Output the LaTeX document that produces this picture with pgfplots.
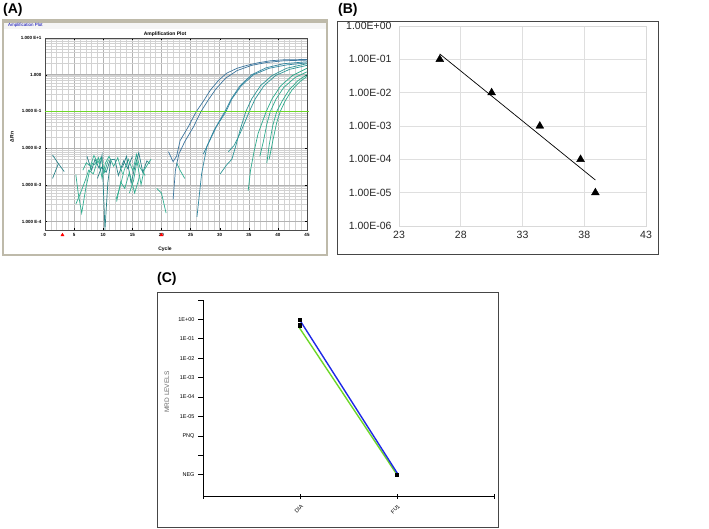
\documentclass[border=0pt]{standalone}
\usepackage{pgfplots}
\pgfplotsset{compat=1.18}
\usepackage{fontspec}
\setmainfont{Liberation Sans}

\definecolor{ampA}{RGB}{60,118,158}
\definecolor{ampB}{RGB}{50,135,160}
\definecolor{ampC}{RGB}{45,150,150}
\definecolor{ampD}{RGB}{45,170,140}
\definecolor{noiseA}{RGB}{50,175,145}
\definecolor{noiseB}{RGB}{40,130,135}
\definecolor{winbar}{RGB}{190,186,170}
\definecolor{limeline}{RGB}{110,215,40}
\definecolor{mrdblue}{RGB}{30,40,230}

\begin{document}
\begin{tikzpicture}
\path[use as bounding box] (0pt,0pt) rectangle (709pt,-528pt);

% ---------- panel labels ----------
\node[anchor=north west, inner sep=0pt, font=\fontsize{14}{14}\selectfont\bfseries] at (3pt,-3pt) {(A)};
\node[anchor=north west, inner sep=0pt, font=\fontsize{14}{14}\selectfont\bfseries] at (338pt,-3pt) {(B)};
\node[anchor=north west, inner sep=0pt, font=\fontsize{14}{14}\selectfont\bfseries] at (157pt,-272pt) {(C)};

% ---------- (A) window frame ----------
\draw[winbar, line width=1.6pt, fill=white] (3pt,-20pt) rectangle (327pt,-255pt);
\fill[winbar] (3pt,-19.5pt) rectangle (327pt,-22.5pt);
\fill[gray!8] (4pt,-22.5pt) rectangle (326pt,-29pt);
\node[anchor=west, inner sep=0pt, text=blue!70!black, font=\fontsize{4.5}{5}\selectfont] at (8pt,-25.5pt) {Amplification Plot};
\node[inner sep=0pt, font=\fontsize{5}{6}\selectfont\bfseries] at (165pt,-34pt) {Amplification Plot};
\node[inner sep=0pt, font=\fontsize{5}{6}\selectfont\bfseries] at (165pt,-249pt) {Cycle};
\node[inner sep=0pt, rotate=90, font=\fontsize{5}{6}\selectfont\bfseries] at (12pt,-137pt) {ΔRn};

\begin{axis}[
  at={(45pt,-230pt)}, anchor=south west,
  scale only axis, width=262pt, height=192pt,
  xmin=0, xmax=45, ymode=log, ymin=5.9e-5, ymax=10,
  xtick={0,5,...,45}, minor x tick num=4,
  ytick={1e-4,1e-3,1e-2,1e-1,1,10},
  yticklabels={1.000 E-4,1.000 E-3,1.000 E-2,1.000 E-1,1.000,1.000 E+1},
  grid=both,
  major grid style={gray!60, line width=0.5pt},
  minor grid style={gray!35, line width=0.4pt},
  axis line style={gray!60!black, line width=0.6pt},
  tick style={black}, major tick length=2pt, minor tick length=0pt,
  tick label style={font=\fontsize{4.5}{5}\selectfont\bfseries},
  /pgf/number format/assume math mode=true,
  clip=false,
]
% background noise
\addplot[noiseB, line width=0.7pt] coordinates {(1.3,6.5e-3)(2.3,3.8e-3)(3.3,2.3e-3)};
\addplot[noiseB, line width=0.7pt] coordinates {(1.3,1.5e-3)(2.3,3.8e-3)};
\addplot[noiseA, line width=0.7pt] coordinates {(5.3,1.9e-3)(5.7,6e-4)(6.3,1.7e-4)(7.0,8e-4)(7.6,2.2e-3)(8.2,4e-3)};
\addplot[noiseA, line width=0.7pt] coordinates {(5.3,3e-4)(6.1,6e-4)(6.9,1.3e-3)(7.5,2.5e-3)(8.3,2.0e-3)(9.0,4.5e-3)};
\addplot[noiseB, line width=0.7pt] coordinates {(7.2,6e-3)(8.0,2.5e-3)(8.6,5e-3)(9.3,2.8e-3)(9.8,6.5e-3)(10.3,6e-5)(10.8,1.2e-3)(11.3,4.5e-3)};
\addplot[noiseA, line width=0.7pt] coordinates {(8.5,3.5e-3)(9.2,5.5e-3)(9.8,1.5e-3)(10.4,4e-3)(11.0,6e-3)(11.8,3.2e-3)(12.5,5.5e-3)(13.3,2e-3)};
\addplot[noiseB, line width=0.7pt] coordinates {(9.0,1.5e-3)(9.7,3e-3)(10.5,2.2e-3)(11.2,4.8e-3)(12.0,5e-3)(12.6,1.8e-3)(13.5,4.5e-3)(14.2,2.8e-3)(15.0,6e-3)};
\addplot[noiseA, line width=0.7pt] coordinates {(12.2,4e-4)(12.9,9e-4)(13.6,2.5e-3)(14.3,5e-3)(15.1,2.4e-3)(15.7,6.8e-3)(16.3,3e-3)(17.2,1.8e-3)};
\addplot[noiseB, line width=0.7pt] coordinates {(13.3,3e-3)(14.0,6e-3)(14.8,1.1e-3)(15.5,3.5e-3)(16.1,7.5e-3)(16.8,2.2e-3)(17.5,4.5e-3)(18.0,3.8e-3)};
\addplot[noiseA, line width=0.7pt] coordinates {(14.5,6e-4)(15.2,1.3e-3)(15.8,4.5e-3)(16.5,1e-3)(17.0,2.5e-3)(18.2,5e-3)};
\addplot[noiseA, line width=0.7pt] coordinates {(12.3,3.5e-4)(13.0,1.2e-3)(13.7,8e-4)(14.5,2.2e-3)(15.4,6e-4)(16.2,1.6e-3)};
\addplot[noiseA, line width=0.7pt] coordinates {(6.5,2.5e-3)(7.1,4e-3)(7.8,3.2e-3)(8.4,6.3e-3)(9.1,4e-3)(9.6,5.5e-3)(10.2,2.2e-3)(10.9,4.8e-3)};
\addplot[noiseA, line width=0.7pt] coordinates {(19.2,8e-4)(20.0,6e-4)(20.8,1.7e-4)};
\addplot[noiseA, line width=0.7pt] coordinates {(22.6,4e-3)(23.2,2.5e-3)(24.0,1.5e-3)};
% amplification curves
\addplot[ampA, line width=0.7pt] coordinates {(21.2,8e-3)(22.0,4.3e-3)(22.6,6e-3)(23.2,1.6e-2)(24.6,3.8e-2)(26.0,0.1)(27.2,0.19)(28.4,0.38)(29.8,0.7)(31.2,1.1)(33,1.5)(34.7,1.8)(36.5,2.1)(38.7,2.4)(41,2.55)(45,2.6)};
\addplot[ampA, line width=0.7pt] coordinates {(22.0,4e-4)(22.4,2.5e-3)(23.0,7e-3)(24.0,1.5e-2)(25.5,3.8e-2)(26.8,0.1)(28.0,0.2)(29.3,0.4)(31,0.8)(33,1.3)(35.5,1.8)(38,2.15)(41,2.4)(45,2.5)};
\addplot[ampB, line width=0.7pt] coordinates {(26.1,1.35e-4)(26.9,2e-3)(27.8,1.1e-2)(29.0,3e-2)(30.9,0.1)(32,0.22)(33.5,0.5)(35.5,1.0)(38,1.55)(41,2.0)(45,2.25)};
\addplot[ampB, line width=0.7pt] coordinates {(27.2,7e-3)(28.2,1.5e-2)(29.5,4e-2)(31.1,0.1)(32.1,0.22)(33.7,0.5)(35.8,1.0)(38.5,1.5)(41.5,1.85)(45,2.1)};
\addplot[ampC, line width=0.7pt] coordinates {(30.1,2e-3)(31.2,3.5e-3)(32.1,5e-3)(32.8,1.2e-2)(33.6,3.5e-2)(34.5,0.1)(35.5,0.22)(37,0.5)(39,0.95)(41.5,1.5)(45,2.0)};
\addplot[ampC, line width=0.7pt] coordinates {(31.5,8e-3)(32.5,1.2e-2)(33.5,2.5e-2)(34.3,5e-2)(35.1,0.1)(36.1,0.22)(37.6,0.5)(39.6,0.95)(42,1.4)(45,1.8)};
\addplot[ampD, line width=0.7pt] coordinates {(34.9,7e-4)(35.3,2.5e-3)(35.9,8e-3)(36.6,2.5e-2)(37.3,5e-2)(38.0,0.1)(39,0.22)(40.5,0.5)(42.5,0.95)(45,1.5)};
\addplot[ampD, line width=0.7pt] coordinates {(36.9,6e-3)(37.5,1.5e-2)(38.1,4.5e-2)(38.7,0.1)(39.7,0.22)(41,0.45)(43,0.85)(45,1.2)};
\addplot[ampD, line width=0.7pt] coordinates {(38.1,3.9e-3)(38.5,1.2e-2)(39.1,4e-2)(39.8,0.1)(40.8,0.2)(42,0.4)(43.5,0.7)(45,1.0)};
\addplot[ampD, line width=0.7pt] coordinates {(38.5,5e-3)(39.2,1.8e-2)(39.8,5e-2)(40.4,0.1)(41.3,0.2)(42.5,0.4)(43.8,0.65)(45,0.9)};
% threshold
\addplot[limeline, line width=1.3pt] coordinates {(0,0.1)(45.3,0.1)};
% baseline flags
\addplot[only marks, mark=triangle*, mark size=1.8pt, red, mark options={yshift=-5pt}] coordinates {(3,5.9e-5)(20,5.9e-5)};
\end{axis}

% ---------- (B) ----------
\draw[gray!55!black, line width=0.9pt] (337pt,-21pt) rectangle (658pt,-254pt);
\begin{axis}[
  at={(399pt,-226pt)}, anchor=south west,
  scale only axis, width=247pt, height=200pt,
  xmin=23, xmax=43, ymode=log, ymin=1e-6, ymax=1,
  xtick={23,28,...,43},
  ytick={1e-6,1e-5,1e-4,1e-3,1e-2,1e-1,1},
  yticklabels={1.00E-06,1.00E-05,1.00E-04,1.00E-03,1.00E-02,1.00E-01,1.00E+00},
  yminorticks=false,
  grid=major, major grid style={gray!25, line width=0.6pt},
  axis line style={gray!30, line width=0.6pt},
  major tick length=0pt,
  tick label style={font=\fontsize{10.5}{12}\selectfont, text=black!85},
  yticklabel style={xshift=-4pt},
  xticklabel style={yshift=-2pt},
  /pgf/number format/assume math mode=true,
  clip=false,
]
\addplot[black, line width=0.7pt] coordinates {(26.3,0.145)(38.9,2.4e-5)};
\addplot[only marks, mark=triangle*, mark size=4.5pt, black] coordinates {(26.3,0.1)(30.5,0.01)(34.4,0.001)(37.7,1e-4)(38.9,1e-5)};
\end{axis}

% ---------- (C) ----------
\draw[gray!55!black, line width=0.8pt] (157pt,-292pt) rectangle (498pt,-527pt);
\node[inner sep=0pt, rotate=90, text=gray!80!black, font=\fontsize{6.5}{7}\selectfont] at (167pt,-392pt) {MRD LEVELS};
\begin{axis}[
  at={(203pt,-496pt)}, anchor=south west,
  scale only axis, width=291pt, height=196pt,
  xmin=0, xmax=3, ymin=-0.1, ymax=10,
  axis x line=bottom, axis y line=left,
  axis line style={-, black, line width=0.8pt},
  xtick={0,1,2,3}, xticklabels={,DIA,FU1,},
  ytick={1,...,10},
  yticklabels={NEG,,PNQ,1E-05,1E-04,1E-03,1E-02,1E-01,1E+00,},
  xtick align=center, ytick align=outside,
  major tick length=5pt, tick style={black, line width=0.7pt},
  tick label style={font=\fontsize{5.5}{6}\selectfont},
  xticklabel style={rotate=45, anchor=north east, yshift=-1pt},
  clip=false,
]
\addplot[limeline, line width=1.4pt] coordinates {(0.99,8.6)(2,1)};
\addplot[mrdblue, line width=1.4pt] coordinates {(1.01,8.87)(2.01,1.02)};
\addplot[only marks, mark=square*, mark size=1.6pt, black] coordinates {(1,9.0)(1,8.7)(2,1)};
\end{axis}
\end{tikzpicture}
\end{document}
